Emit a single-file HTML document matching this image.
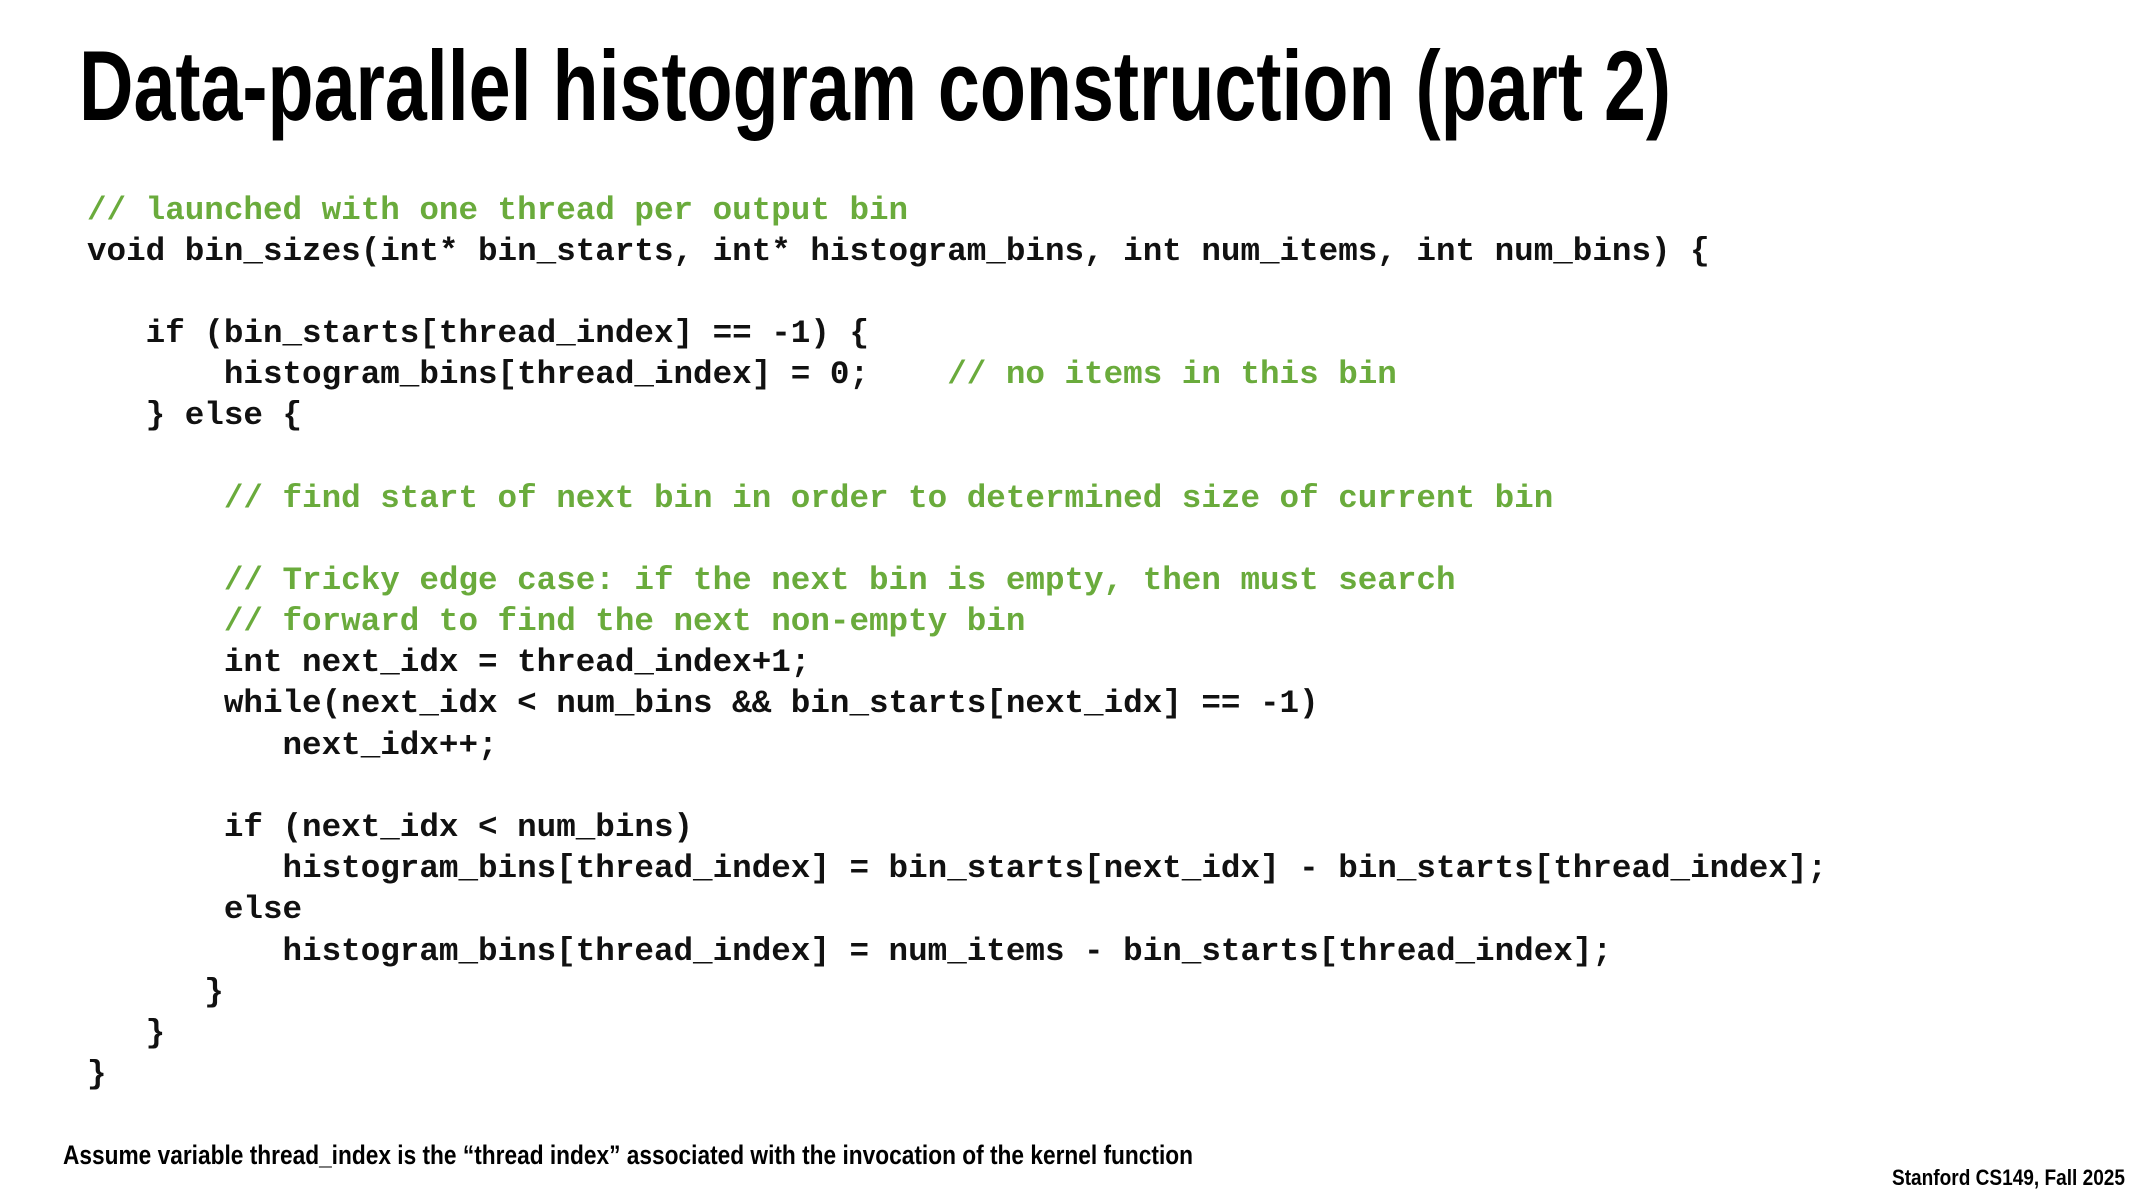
<!DOCTYPE html>
<html><head><meta charset="utf-8"><style>
html,body{margin:0;padding:0;background:#fff;}
svg{display:block}
.c{font-family:"Liberation Mono",monospace;font-weight:bold;font-size:32.6px;fill:#111;white-space:pre}
.g{fill:#6aab3c}
</style></head><body>
<svg width="2133" height="1200" viewBox="0 0 2133 1200" xmlns="http://www.w3.org/2000/svg">
<text x="79" y="120" font-family="Liberation Sans Narrow, Liberation Sans, sans-serif" font-weight="bold" font-size="99" textLength="1592" lengthAdjust="spacingAndGlyphs" fill="#000">Data-parallel histogram construction (part 2)</text>
<g class="c" xml:space="preserve">
<text x="87" y="219" class="c g">// launched with one thread per output bin</text>
<text x="87" y="260" class="c">void bin_sizes(int* bin_starts, int* histogram_bins, int num_items, int num_bins) {</text>
<text x="87" y="342" class="c">   if (bin_starts[thread_index] == -1) {</text>
<text x="87" y="383" class="c">       histogram_bins[thread_index] = 0;    <tspan class="g">// no items in this bin</tspan></text>
<text x="87" y="424" class="c">   } else {</text>
<text x="87" y="507" class="c g">       // find start of next bin in order to determined size of current bin</text>
<text x="87" y="589" class="c g">       // Tricky edge case: if the next bin is empty, then must search</text>
<text x="87" y="630" class="c g">       // forward to find the next non-empty bin</text>
<text x="87" y="671" class="c">       int next_idx = thread_index+1;</text>
<text x="87" y="712" class="c">       while(next_idx &lt; num_bins &amp;&amp; bin_starts[next_idx] == -1)</text>
<text x="87" y="754" class="c">          next_idx++;</text>
<text x="87" y="836" class="c">       if (next_idx &lt; num_bins)</text>
<text x="87" y="877" class="c">          histogram_bins[thread_index] = bin_starts[next_idx] - bin_starts[thread_index];</text>
<text x="87" y="918" class="c">       else</text>
<text x="87" y="960" class="c">          histogram_bins[thread_index] = num_items - bin_starts[thread_index];</text>
<text x="87" y="1001" class="c">      }</text>
<text x="87" y="1042" class="c">   }</text>
<text x="87" y="1083" class="c">}</text>
</g>
<text x="63" y="1164" font-family="Liberation Sans Narrow, Liberation Sans, sans-serif" font-weight="bold" font-size="27" textLength="1130" lengthAdjust="spacingAndGlyphs" fill="#000">Assume variable thread_index is the “thread index” associated with the invocation of the kernel function</text>
<text x="1892" y="1185" font-family="Liberation Sans Narrow, Liberation Sans, sans-serif" font-weight="bold" font-size="22" textLength="233" lengthAdjust="spacingAndGlyphs" fill="#000">Stanford CS149, Fall 2025</text>
</svg>
</body></html>
